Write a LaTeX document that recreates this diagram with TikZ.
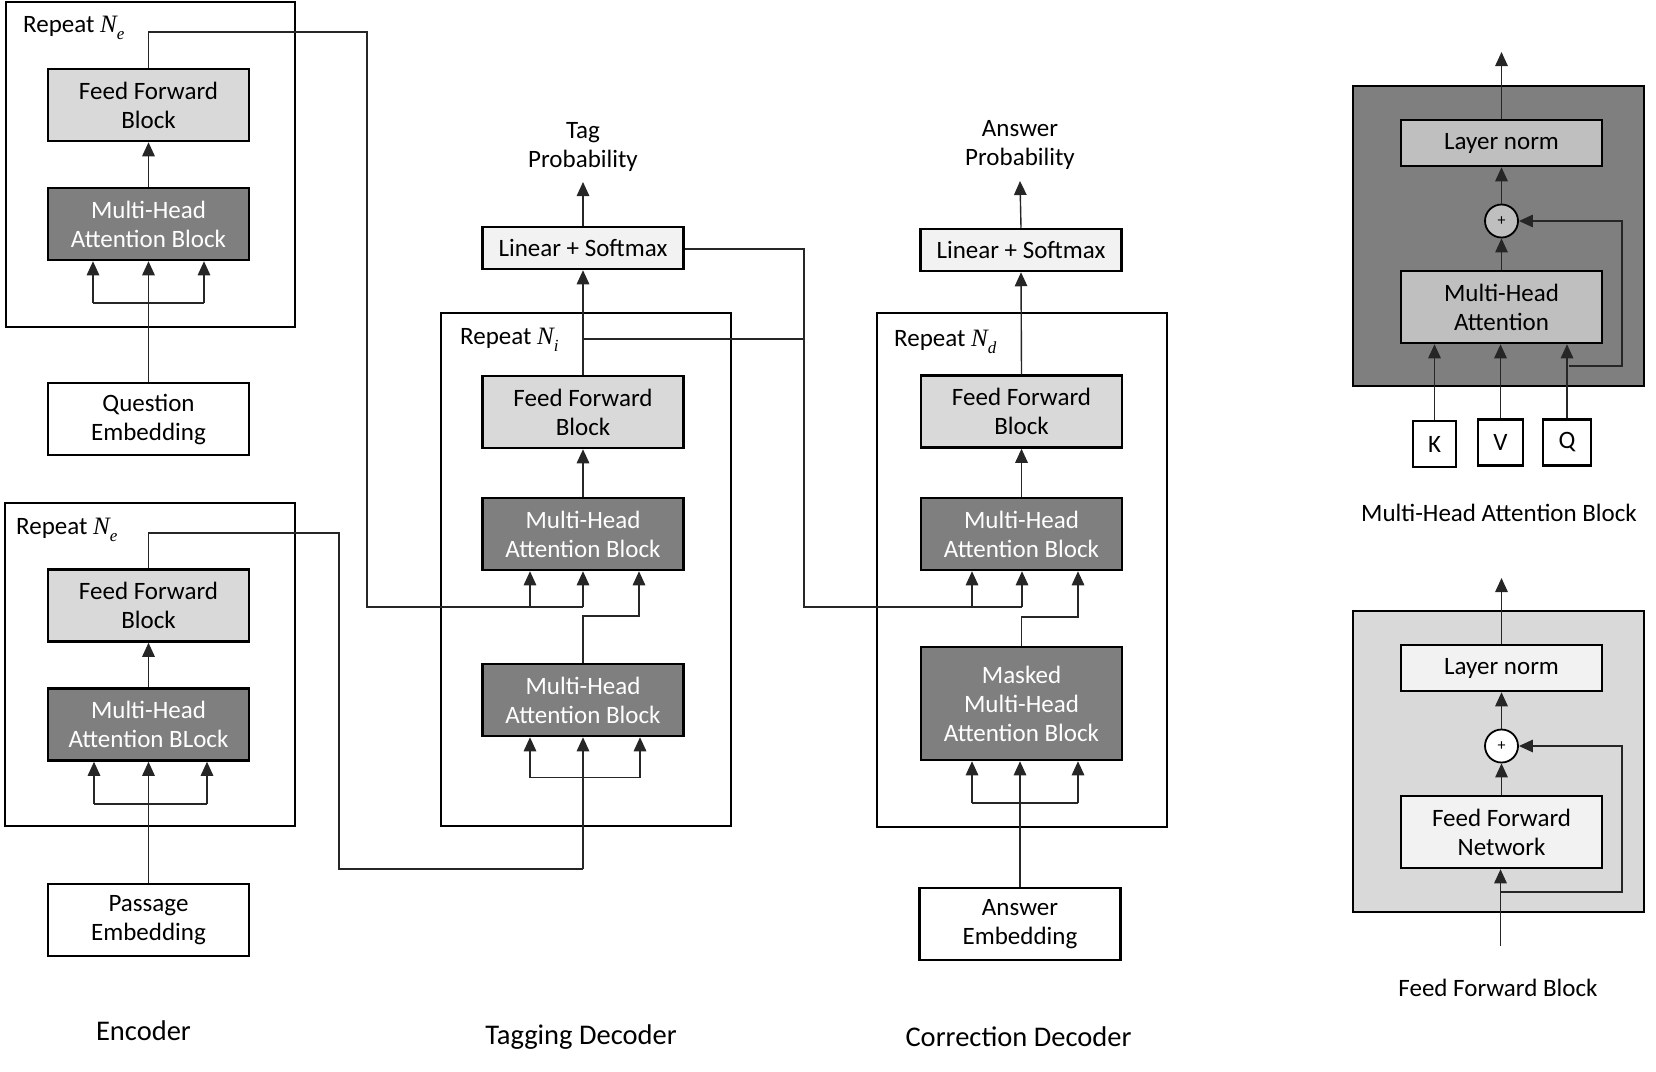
\documentclass[tikz,border=0pt]{standalone}
\usepackage{fontspec}
\setmainfont{Carlito}
\newfontfamily\nserif{Liberation Serif}
\newcommand{\Nsub}[1]{{\nserif\itshape N}\raisebox{-0.28em}{\fontsize{17}{17}\selectfont\nserif\itshape #1}}
\usetikzlibrary{arrows.meta}
\definecolor{ffgray}{HTML}{D9D9D9}
\definecolor{mhagray}{HTML}{7F7F7F}
\definecolor{lsgray}{HTML}{F2F2F2}
\definecolor{midgray}{HTML}{BFBFBF}
\definecolor{linec}{HTML}{262626}
\tikzset{
  repbox/.style={draw, line width=2.5pt, inner sep=0pt},
  blk/.style={draw, line width=2.5pt, minimum width=201pt, minimum height=72pt, align=center, inner sep=0pt, font=\fontsize{25}{29}\selectfont},
  ffbox/.style={blk, fill=ffgray},
  mhabox/.style={blk, fill=mhagray, text=white},
  embbox/.style={blk, fill=white},
  lsbox/.style={blk, fill=lsgray, minimum height=42pt},
  lbl/.style={font=\fontsize{25}{29}\selectfont, align=center, inner sep=0pt},
  ttl/.style={font=\fontsize{28.5}{34}\selectfont, inner sep=0pt},
  conn/.style={line width=1.4pt, draw=linec},
  arr/.style={conn, -{Triangle[length=14pt,width=12.5pt]}},
  plus/.style={draw, circle, line width=1.8pt, minimum size=33pt, inner sep=0pt, font=\fontsize{16}{16}\selectfont},
  kvq/.style={draw, line width=2.5pt, minimum height=46pt, inner sep=0pt, fill=white, font=\fontsize{25}{29}\selectfont}
}
\begin{document}
\begin{tikzpicture}[x=1pt,y=-1pt]
\useasboundingbox (0,0) rectangle (1656,1071);

% ---------------- Encoder (question) ----------------
\node[repbox, minimum width=289pt, minimum height=325pt] (encA) at (150.5,164.5) {};
\node[lbl, anchor=west] (encAlab) at (23,28) {Repeat \Nsub{e}};
\node[ffbox] (ffbA) at (148.5,105) {Feed Forward\\Block};
\node[mhabox] (mhaA) at (148.5,224) {Multi-Head\\Attention Block};
\node[embbox] (qemb) at (148.5,419) {Question\\Embedding};
\coordinate (aL) at (93,303);
\coordinate (aR) at (204,303);
\draw[conn] (aL) -- (aR);
\draw[arr] (aL) -- (aL |- mhaA.south);
\draw[arr] (aR) -- (aR |- mhaA.south);
\draw[arr] (qemb.north) -- (mhaA.south);
\draw[arr] (mhaA.north) -- (ffbA.south);

% ---------------- Encoder (passage) ----------------
\node[repbox, minimum width=290pt, minimum height=323pt] (encB) at (150,664.5) {};
\node[lbl, anchor=west] (encBlab) at (16,530) {Repeat \Nsub{e}};
\node[ffbox] (ffbB) at (148.5,605.5) {Feed Forward\\Block};
\node[mhabox] (mhaB) at (148.5,724.5) {Multi-Head\\Attention BLock};
\node[embbox] (pemb) at (148.5,920) {Passage\\Embedding};
\coordinate (bL) at (94,804);
\coordinate (bR) at (207,804);
\draw[conn] (bL) -- (bR);
\draw[arr] (bL) -- (bL |- mhaB.south);
\draw[arr] (bR) -- (bR |- mhaB.south);
\draw[arr] (pemb.north) -- (mhaB.south);
\draw[arr] (mhaB.north) -- (ffbB.south);

\node[ttl] (encT) at (143.5,1031) {Encoder};

% ---------------- Tagging decoder ----------------
\node[repbox, minimum width=290pt, minimum height=513pt] (tagR) at (586,569.5) {};
\node[lbl, anchor=west] (tagRlab) at (460,340) {Repeat \Nsub{i}};
\node[ffbox] (ffbT) at (583,412) {Feed Forward\\Block};
\node[mhabox] (mhaT1) at (583,534) {Multi-Head\\Attention Block};
\node[mhabox] (mhaT2) at (583,700) {Multi-Head\\Attention Block};
\node[lsbox] (lsT) at (583,248) {Linear + Softmax};
\node[lbl] (tagP) at (583,147) {Tag\\Probability};
\coordinate (tagPin) at (583,182);
\draw[arr] (lsT.north) -- (tagPin);
\draw[arr] (ffbT.north) -- (lsT.south);
\draw[arr] (mhaT1.north) -- (ffbT.south);

% question encoder output -> tagging decoder
\coordinate (q1) at (367,32);
\coordinate (q2) at (367,607);
\coordinate (t1L) at (530,607);
\coordinate (t1M) at (583,607);
\draw[conn] (ffbA.north) |- (q1) -- (q2) -- (t1M);
\draw[arr] (t1L) -- (t1L |- mhaT1.south);
\draw[arr] (t1M) -- (t1M |- mhaT1.south);
\coordinate (t1R) at (639,616);
\draw[arr] (mhaT2.north) |- (t1R) -- (t1R |- mhaT1.south);

% passage encoder output -> tagging decoder
\coordinate (p1) at (339,533);
\coordinate (p2) at (339,869);
\coordinate (p3) at (583,869);
\draw[conn] (ffbB.north) |- (p1) -- (p2) -- (p3);
\draw[arr] (p3) -- (mhaT2.south);
\coordinate (t2L) at (530,777.5);
\coordinate (t2R) at (640,777.5);
\draw[conn] (t2L) -- (t2R);
\draw[arr] (t2L) -- (t2L |- mhaT2.south);
\draw[arr] (t2R) -- (t2R |- mhaT2.south);

\node[ttl] (tagT) at (581,1037) {Tagging Decoder};

% ---------------- Correction decoder ----------------
\node[repbox, minimum width=290pt, minimum height=514pt] (corR) at (1022,570) {};
\node[lbl, anchor=west] (corRlab) at (894,342) {Repeat \Nsub{d}};
\node[ffbox] (ffbC) at (1021.5,411.5) {Feed Forward\\Block};
\node[mhabox] (mhaC) at (1021.5,534) {Multi-Head\\Attention Block};
\node[mhabox, minimum height=113pt] (mmhaC) at (1021.5,703.5) {Masked\\ Multi-Head\\Attention Block};
\node[embbox] (aemb) at (1020,924) {Answer\\Embedding};
\node[lsbox] (lsC) at (1021,250) {Linear + Softmax};
\node[lbl] (ansP) at (1020,145) {Answer\\Probability};
\coordinate (ansPin) at (1020,181);
\draw[arr] (lsC.north) -- (ansPin);
\draw[arr] (ffbC.north) -- (lsC.south);
\draw[arr] (mhaC.north) -- (ffbC.south);

% tagging decoder outputs -> correction decoder
\coordinate (c0) at (583,339);
\coordinate (c1) at (804,339);
\coordinate (c2) at (804,249);
\coordinate (c3) at (804,607);
\coordinate (cL) at (972,607);
\coordinate (cM) at (1022,607);
\draw[conn] (c0) -- (c1);
\draw[conn] (lsT.east |- c2) -- (c2) -- (c3) -- (cM);
\draw[arr] (cL) -- (cL |- mhaC.south);
\draw[arr] (cM) -- (cM |- mhaC.south);
\coordinate (cR) at (1078,617);
\draw[arr] (mmhaC.north) |- (cR) -- (cR |- mhaC.south);

\coordinate (mL) at (972,803);
\coordinate (mR) at (1078,803);
\draw[conn] (mL) -- (mR);
\draw[arr] (mL) -- (mL |- mmhaC.south);
\draw[arr] (mR) -- (mR |- mmhaC.south);
\draw[arr] (aemb.north) -- (aemb.north |- mmhaC.south);

\node[ttl] (corT) at (1018.5,1037) {Correction Decoder};

% ---------------- Multi-Head Attention Block (detail) ----------------
\node[repbox, fill=mhagray, minimum width=291pt, minimum height=300pt] (mhaD) at (1498.5,236) {};
\node[blk, fill=midgray, minimum height=46pt] (lnA) at (1501.5,143) {Layer norm};
\node[plus, fill=midgray] (plA) at (1501.5,221) {+};
\node[blk, fill=midgray] (mhaIn) at (1501.5,307) {Multi-Head\\Attention};
\node[kvq, minimum width=43pt] (kN) at (1434.5,444) {K};
\node[kvq, minimum width=45pt] (vN) at (1500.5,442.5) {V};
\node[kvq, minimum width=48pt] (qN) at (1567,442.5) {Q};
\draw[arr] (kN.north) -- (kN.north |- mhaIn.south);
\draw[arr] (vN.north) -- (vN.north |- mhaIn.south);
\draw[arr] (qN.north) -- (qN.north |- mhaIn.south);
\coordinate (rA1) at (1569,366);
\coordinate (rA2) at (1622,366);
\draw[arr] (rA1) -- (rA2) |- (plA.east);
\draw[arr] (mhaIn.north) -- (plA.south);
\draw[arr] (plA.north) -- (lnA.south);
\coordinate (outA) at (1501.5,52);
\draw[arr] (lnA.north) -- (outA);
\node[lbl] (mhaDT) at (1499,513) {Multi-Head Attention Block};

% ---------------- Feed Forward Block (detail) ----------------
\node[repbox, fill=ffgray, minimum width=291pt, minimum height=301pt] (ffD) at (1498.5,761.5) {};
\node[blk, fill=lsgray, minimum height=46pt] (lnB) at (1501.5,668) {Layer norm};
\node[plus, fill=white] (plB) at (1501.5,746) {+};
\node[blk, fill=lsgray] (ffn) at (1501.5,832) {Feed Forward\\Network};
\coordinate (inB) at (1500.5,946);
\draw[arr] (inB) -- (inB |- ffn.south);
\coordinate (rB1) at (1501,892);
\coordinate (rB2) at (1622,892);
\draw[arr] (rB1) -- (rB2) |- (plB.east);
\draw[arr] (ffn.north) -- (plB.south);
\draw[arr] (plB.north) -- (lnB.south);
\coordinate (outB) at (1501.5,578);
\draw[arr] (lnB.north) -- (outB);
\node[lbl] (ffDT) at (1498,988) {Feed Forward Block};
\end{tikzpicture}
\end{document}
